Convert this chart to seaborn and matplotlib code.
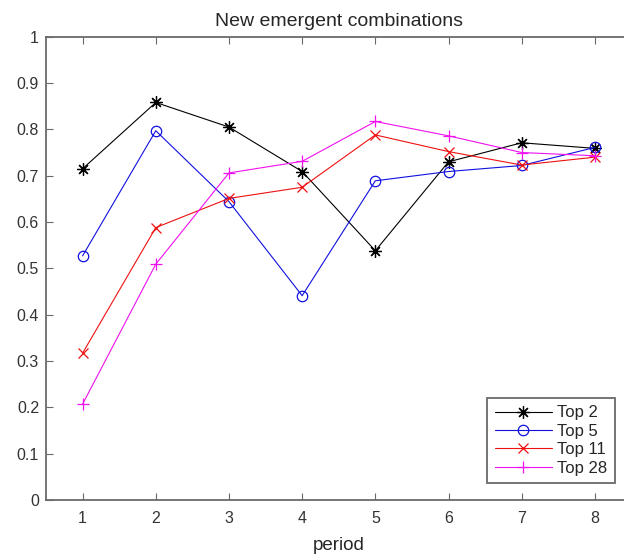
import matplotlib
matplotlib.use("Agg")
import matplotlib.pyplot as plt
import seaborn as sns
import pandas as pd

periods = [1, 2, 3, 4, 5, 6, 7, 8]
top2 = [0.715, 0.858, 0.805, 0.709, 0.538, 0.730, 0.771, 0.759]
top5 = [0.527, 0.797, 0.644, 0.441, 0.689, 0.709, 0.722, 0.761]
top11 = [0.317, 0.588, 0.651, 0.675, 0.788, 0.752, 0.723, 0.740]
top28 = [0.207, 0.509, 0.706, 0.731, 0.817, 0.786, 0.750, 0.743]
series_names = ["Top 2", "Top 5", "Top 11", "Top 28"]
yticks = [0, 0.1, 0.2, 0.3, 0.4, 0.5, 0.6, 0.7, 0.8, 0.9, 1]
ytick_labels = ["0", "0.1", "0.2", "0.3", "0.4", "0.5", "0.6", "0.7", "0.8", "0.9", "1"]

series_values = {"Top 2": top2, "Top 5": top5, "Top 11": top11, "Top 28": top28}

sns.set_theme(style="white")
plt.rcParams["font.family"] = ["Liberation Sans", "DejaVu Sans"]

fig = plt.figure(figsize=(6.24, 5.55), dpi=100)
ax = fig.add_axes([46 / 624, 55 / 555, 585.5 / 624, 463.3 / 555])

palette = {"Top 2": "#000000", "Top 5": "#1010e0", "Top 11": "#f01010", "Top 28": "#f010f0"}
markers = {"Top 2": (8, 2, 0), "Top 5": "o", "Top 11": "x", "Top 28": "+"}
msizes = {"Top 2": 9, "Top 5": 7.5, "Top 11": 7, "Top 28": 8}

for n in series_names:
    d = pd.DataFrame({"period": periods, "value": series_values[n]})
    sns.lineplot(data=d, x="period", y="value", color=palette[n], marker=markers[n],
                 ax=ax, linewidth=0.8, markersize=msizes[n], markerfacecolor="none",
                 markeredgecolor=palette[n], markeredgewidth=0.9, label=n)

ax.set_xlim(0.5, 8.5)
ax.set_ylim(0, 1)
ax.set_xticks(periods)
ax.set_xticklabels([str(p) for p in periods])
ax.set_yticks(yticks)
ax.set_yticklabels(ytick_labels)
ax.set_xlabel("period", fontsize=13.5, color="#262626", labelpad=8)
ax.set_ylabel("")
ax.set_title("New emergent combinations", fontsize=14, color="#262626", pad=8)

for s in ax.spines.values():
    s.set_color("#6a6a6a")
    s.set_linewidth(1.3)
ax.tick_params(axis="both", direction="in", length=5, width=0.8, colors="#6a6a6a",
               labelcolor="#333333", labelsize=11.5, top=True, right=True,
               bottom=True, left=True)
ax.tick_params(axis="x", pad=8)
ax.tick_params(axis="y", pad=5)

leg = ax.legend(loc="lower right",
                bbox_to_anchor=(615 / 624, 72 / 555), bbox_transform=fig.transFigure,
                fancybox=False, framealpha=1, edgecolor="#6a6a6a", fontsize=12,
                handlelength=3.4, handletextpad=0.35, borderpad=0.45, labelspacing=0.2,
                borderaxespad=0)
leg.get_frame().set_linewidth(1.3)

fig.savefig("out.png", dpi=100)
